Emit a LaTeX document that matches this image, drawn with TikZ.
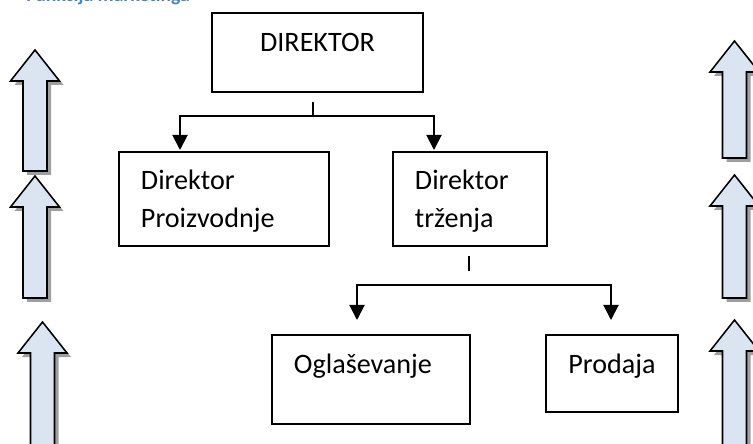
\documentclass[tikz,border=0pt]{standalone}
\usepackage{fontspec}
\setmainfont{Carlito}
\usetikzlibrary{arrows.meta}

\definecolor{headblue}{HTML}{4F81BD}
\definecolor{arrowfill}{HTML}{DBE5F1}

\tikzset{
    orgbox/.style={draw, line width=1.4pt, inner ysep=0pt, font=\fontsize{20}{27}\selectfont},
    conn/.style={line width=1.4pt},
    connarrow/.style={conn, -{Triangle[length=10.7pt, width=10.7pt]}},
    shadowbox/.style={fill=gray!75},
    upblock/.style={fill=arrowfill, draw=black, line width=1.1pt, line join=miter}
}

\begin{document}
\begin{tikzpicture}[x=0.025cm, y=-0.025cm]
    % One unit is one pixel of the reference
    \def\px{0.025cm}
    \def\shaft{12}   % half width of the shaft
    \def\head{24.5}  % half width of the head
    \def\headh{31}   % height of the head

    \useasboundingbox (0,0) rectangle (753,444);

    % Heading, cut off by the top edge
    \node[anchor=base west, inner sep=0pt, text=headblue, font=\fontsize{14}{17}\selectfont\bfseries] (title) at (26,1.5) {Funkcija marketinga};

    % Boxes
    \node[orgbox, anchor=base, inner xsep=0pt, minimum width=211*\px, text height=39*\px, text depth=40*\px] (dir) at (317.5,52) {DIREKTOR};
    \node[orgbox, anchor=base west, align=left, inner xsep=22*\px, text width=166*\px, text height=38*\px, text depth=56*\px] (proiz) at (118,190) {Direktor\\Proizvodnje};
    \node[orgbox, anchor=base west, align=left, inner xsep=22*\px, text width=110*\px, text height=38*\px, text depth=56*\px] (trz) at (392,190) {Direktor\\tr\v{z}enja};
    \node[orgbox, anchor=base west, align=left, inner xsep=22*\px, text width=154*\px, text height=38*\px, text depth=51*\px] (ogl) at (271,373) {Ogla\v{s}evanje};
    \node[orgbox, anchor=base, inner xsep=0pt, minimum width=132*\px, text height=38*\px, text depth=39*\px] (prod) at (612,373) {Prodaja};

    % Connector points
    \coordinate (dirstub) at (313,102);
    \coordinate (dirfork) at (313,116);
    \coordinate (proizin) at (180,150);
    \coordinate (trzin) at (434,150);
    \coordinate (trzstub) at (469,256);
    \coordinate (trzstubend) at (469,271);
    \coordinate (trzfork) at (469,285);
    \coordinate (oglin) at (357,320);
    \coordinate (prodin) at (611,320);

    % Connectors
    \draw[conn] (dirstub) -- (dirfork);
    \draw[connarrow] (dirfork) -| (proizin);
    \draw[connarrow] (dirfork) -| (trzin);
    \draw[conn] (trzstub) -- (trzstubend);
    \draw[connarrow] (trzfork) -| (oglin);
    \draw[connarrow] (trzfork) -| (prodin);

    % Block arrows at both sides
    \foreach \cx/\ty/\by in {35/50/171, 35/176/298, 42.5/322/470, 734.5/41/158, 734.5/175/298, 734.5/320/470} {
        \fill[shadowbox] (\cx+4,\ty+4) -- (\cx+\head+4,\ty+\headh+4) -- (\cx+\shaft+4,\ty+\headh+4)
            -- (\cx+\shaft+4,\by+4) -- (\cx-\shaft+4,\by+4) -- (\cx-\shaft+4,\ty+\headh+4)
            -- (\cx-\head+4,\ty+\headh+4) -- cycle;
        \draw[upblock] (\cx,\ty) -- (\cx+\head,\ty+\headh) -- (\cx+\shaft,\ty+\headh)
            -- (\cx+\shaft,\by) -- (\cx-\shaft,\by) -- (\cx-\shaft,\ty+\headh)
            -- (\cx-\head,\ty+\headh) -- cycle;
    }
\end{tikzpicture}
\end{document}
